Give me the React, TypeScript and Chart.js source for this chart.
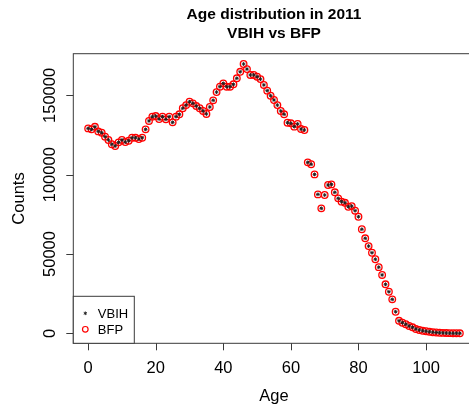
import { useEffect, useRef } from 'react';
import { Chart, registerables } from 'chart.js';

Chart.register(...registerables);

// Ages 0..110
const ages = [
  0, 1, 2, 3, 4, 5, 6, 7, 8, 9,
  10, 11, 12, 13, 14, 15, 16, 17, 18, 19,
  20, 21, 22, 23, 24, 25, 26, 27, 28, 29,
  30, 31, 32, 33, 34, 35, 36, 37, 38, 39,
  40, 41, 42, 43, 44, 45, 46, 47, 48, 49,
  50, 51, 52, 53, 54, 55, 56, 57, 58, 59,
  60, 61, 62, 63, 64, 65, 66, 67, 68, 69,
  70, 71, 72, 73, 74, 75, 76, 77, 78, 79,
  80, 81, 82, 83, 84, 85, 86, 87, 88, 89,
  90, 91, 92, 93, 94, 95, 96, 97, 98, 99,
  100, 101, 102, 103, 104, 105, 106, 107, 108, 109, 110,
];

// Population counts by age, VBIH source
const vbihCounts = [
  129200, 128600, 130200, 127300, 126500, 124000, 121900, 119200, 118100, 120400,
  121900, 120600, 121400, 123300, 123300, 122500, 123300, 128600, 133900, 136600,
  137000, 135100, 136600, 134900, 136600, 133000, 136600, 138100, 141900, 143900,
  146000, 145000, 143300, 141900, 140200, 138300, 142700, 146900, 152100, 155500,
  157600, 155500, 155500, 157000, 160800, 164900, 169800, 166600, 162900, 162900,
  161800, 160300, 156600, 153000, 149800, 147100, 143900, 140200, 138100, 132800,
  132400, 130300, 132000, 128800, 128200, 107800, 106600, 100200, 87600, 78800,
  87200, 93500, 93900, 88900, 85100, 83000, 82300, 79800, 80200, 77300,
  73500, 65600, 59900, 55000, 50800, 46700, 41700, 36800, 30900, 26200,
  21400, 13600, 7900, 6700, 5700, 4600, 3800, 2700, 2100, 1600,
  1300, 1000, 700, 500, 350, 250, 150, 100, 60, 40, 20,
];

// Population counts by age, BFP source
const bfpCounts = [
  129200, 128600, 130200, 127300, 126500, 124000, 121900, 119200, 118100, 120400,
  121900, 120600, 121400, 123300, 123300, 122500, 123300, 128600, 133900, 136600,
  137000, 135100, 136600, 134900, 136600, 133000, 136600, 138100, 141900, 143900,
  146000, 145000, 143300, 141900, 140200, 138300, 142700, 146900, 152100, 155500,
  157600, 155500, 155500, 157000, 160800, 164900, 169800, 166600, 162900, 162900,
  161800, 160300, 156600, 153000, 149800, 147100, 143900, 140200, 138100, 132800,
  132400, 130300, 132000, 128800, 128200, 107800, 106600, 100200, 87600, 78800,
  87200, 93500, 93900, 88900, 85100, 83000, 82300, 79800, 80200, 77300,
  73500, 65600, 59900, 55000, 50800, 46700, 41700, 36800, 30900, 26200,
  21400, 13600, 7900, 6700, 5700, 4600, 3800, 2700, 2100, 1600,
  1300, 1000, 700, 500, 350, 250, 150, 100, 60, 40, 20,
];

const xTicks = [0, 20, 40, 60, 80, 100];
const yTicks = [0, 50000, 100000, 150000];
const titleLines = ['Age distribution in 2011', 'VBIH vs BFP'];
const seriesNames = ['VBIH', 'BFP'];

const FONT = '"Liberation Sans", Arial, Helvetica, sans-serif';

// Base-graphics style decorations: box, ticks, rotated y labels, titles, legend
const baseGraphics = {
  id: 'baseGraphics',
  afterDraw(chart: any) {
    const { ctx, chartArea: a, scales } = chart;
    const xs = scales.x;
    const ys = scales.y;
    ctx.save();

    // plot box
    ctx.strokeStyle = '#3a3a3a';
    ctx.lineWidth = 1;
    ctx.strokeRect(a.left, a.top, a.right - a.left, a.bottom - a.top);

    // tick marks
    ctx.beginPath();
    for (const v of xTicks) {
      const px = Math.round(xs.getPixelForValue(v)) + 0.5;
      ctx.moveTo(px, a.bottom);
      ctx.lineTo(px, a.bottom + 7);
    }
    for (const v of yTicks) {
      const py = Math.round(ys.getPixelForValue(v)) + 0.5;
      ctx.moveTo(a.left, py);
      ctx.lineTo(a.left - 7, py);
    }
    ctx.stroke();

    ctx.fillStyle = '#000';
    ctx.font = `16.5px ${FONT}`;
    ctx.textBaseline = 'alphabetic';
    ctx.textAlign = 'center';

    // x tick labels
    for (const v of xTicks) {
      ctx.fillText(String(v), xs.getPixelForValue(v), a.bottom + 30);
    }
    // y tick labels, rotated parallel to the axis
    for (const v of yTicks) {
      ctx.save();
      ctx.translate(a.left - 18, ys.getPixelForValue(v));
      ctx.rotate(-Math.PI / 2);
      ctx.fillText(String(v), 0, 0);
      ctx.restore();
    }

    const cx = (a.left + a.right) / 2;
    const cy = (a.top + a.bottom) / 2;

    // axis titles
    ctx.fillText('Age', cx, a.bottom + 58);
    ctx.save();
    ctx.translate(23.5, cy);
    ctx.rotate(-Math.PI / 2);
    ctx.fillText('Counts', 0, 0);
    ctx.restore();

    // main title
    ctx.font = `bold 15.5px ${FONT}`;
    ctx.fillText(titleLines[0], cx, 18.5);
    ctx.fillText(titleLines[1], cx, 38);

    // legend
    const lx = a.left;
    const lw = 61;
    const lh = 47;
    const ly = a.bottom - lh;
    ctx.fillStyle = '#fff';
    ctx.fillRect(lx, ly, lw, lh);
    ctx.strokeStyle = '#3a3a3a';
    ctx.lineWidth = 1;
    ctx.strokeRect(lx, ly, lw, lh);

    ctx.font = `13px ${FONT}`;
    ctx.textAlign = 'left';
    ctx.fillStyle = '#000';
    ctx.fillText(seriesNames[0], lx + 24.5, ly + 21.5);
    ctx.fillText(seriesNames[1], lx + 24.5, ly + 37.5);

    // VBIH marker: small star
    const sx = lx + 12;
    ctx.strokeStyle = '#222';
    ctx.lineWidth = 1;
    ctx.beginPath();
    const sy = ly + 17;
    for (let i = 0; i < 3; i++) {
      const ang = (i * Math.PI) / 3 + Math.PI / 2;
      ctx.moveTo(sx - 1.8 * Math.cos(ang), sy - 1.8 * Math.sin(ang));
      ctx.lineTo(sx + 1.8 * Math.cos(ang), sy + 1.8 * Math.sin(ang));
    }
    ctx.stroke();

    // BFP marker: open red circle
    ctx.strokeStyle = '#ff0000';
    ctx.lineWidth = 1.2;
    ctx.beginPath();
    ctx.arc(sx, ly + 33, 2.8, 0, Math.PI * 2);
    ctx.stroke();

    ctx.restore();
  },
};

export default function App() {
  const canvasRef = useRef<HTMLCanvasElement | null>(null);

  useEffect(() => {
    const canvas = canvasRef.current;
    if (!canvas) return;

    const toPoints = (vals: number[]) => ages.map((age, i) => ({ x: age, y: vals[i] }));

    const chart = new Chart(canvas, {
      type: 'scatter',
      data: {
        datasets: [
          {
            label: seriesNames[0],
            data: toPoints(vbihCounts),
            pointStyle: 'star',
            pointRadius: 1.9,
            borderColor: '#222',
            backgroundColor: '#222',
            borderWidth: 1,
            showLine: false,
          },
          {
            label: seriesNames[1],
            data: toPoints(bfpCounts),
            pointStyle: 'circle',
            pointRadius: 3.3,
            borderColor: '#ff0000',
            backgroundColor: 'rgba(0,0,0,0)',
            borderWidth: 1.3,
            showLine: false,
          },
        ],
      },
      options: {
        responsive: false,
        animation: false,
        devicePixelRatio: 1,
        layout: {
          padding: { left: 73.3, top: 53.7, right: 4.2, bottom: 67.7 },
        },
        scales: {
          x: { type: 'linear', display: false, min: -4.4, max: 114.4 },
          y: { type: 'linear', display: false, min: -6300, max: 176300 },
        },
        plugins: {
          legend: { display: false },
          title: { display: false },
          tooltip: { enabled: false },
        },
        events: [],
      },
      plugins: [baseGraphics],
    });

    return () => chart.destroy();
  }, []);

  return (
    <div
      style={{
        position: 'fixed',
        left: 0,
        top: 0,
        width: 469,
        height: 411,
        overflow: 'hidden',
        background: '#fff',
      }}
    >
      <canvas ref={canvasRef} width={480} height={411} style={{ display: 'block' }} />
    </div>
  );
}
